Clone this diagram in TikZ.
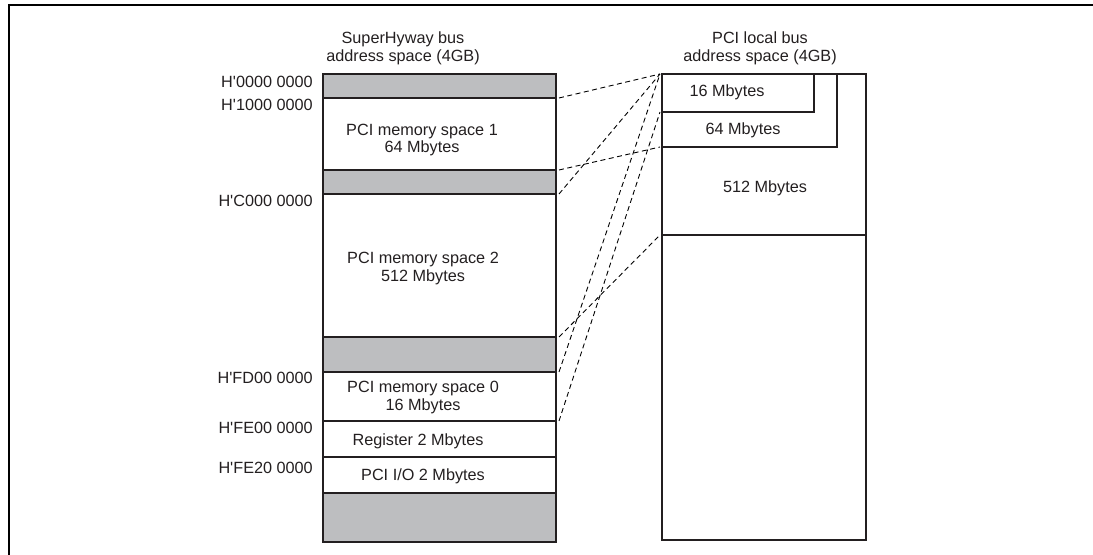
\documentclass[tikz,border=0pt]{standalone}
\usepackage{fontspec}
\setmainfont{Liberation Sans}
\definecolor{ink}{HTML}{231F20}
\definecolor{shade}{HTML}{BDBEC0}
\newcommand{\hq}{H\textquotesingle}
\begin{document}
\begin{tikzpicture}[x=1bp,y=-1bp,
  cell/.style={draw=ink, line width=2.4bp, inner sep=0, outer sep=0, minimum width=233bp},
  graycell/.style={cell, fill=shade},
  rbox/.style={draw=ink, line width=2.4bp, inner sep=0, outer sep=0},
  lbl/.style={font=\fontsize{16.3}{18}\selectfont, inner sep=0, text=ink},
  addr/.style={lbl, anchor=east},
  map/.style={draw=black, line width=0.9bp, dash pattern=on 5bp off 3.5bp}]
\useasboundingbox (0,0) rectangle (1093,555);
% frame
\draw[line width=2.6bp, black] (1093,5) -- (9,5) -- (9,555);
% titles
\node[lbl, align=center] (t1) at (403,48) {SuperHyway bus\\address space (4GB)};
\node[lbl, align=center] (t2) at (760,48) {PCI local bus\\address space (4GB)};
% left column
\node[graycell, minimum height=24bp] (g1) at (439.5,86) {};
\node[cell, minimum height=72bp] (m1) at (439.5,134) {};
\node[graycell, minimum height=24bp] (g2) at (439.5,182) {};
\node[cell, minimum height=143bp] (m2) at (439.5,265.5) {};
\node[graycell, minimum height=35bp] (g3) at (439.5,354.5) {};
\node[cell, minimum height=49bp] (m0) at (439.5,396.5) {};
\node[cell, minimum height=36bp] (reg) at (439.5,439) {};
\node[cell, minimum height=36bp] (io) at (439.5,475) {};
\node[graycell, minimum height=49bp] (g4) at (439.5,517.5) {};
% left texts
\node[lbl, align=center] (m1t) at (422,140) {PCI memory space 1\\64 Mbytes};
\node[lbl, align=center] (m2t) at (423,268.5) {PCI memory space 2\\512 Mbytes};
\node[lbl, align=center] (m0t) at (423,397.5) {PCI memory space 0\\16 Mbytes};
\node[lbl] (regt) at (418,441) {Register 2 Mbytes};
\node[lbl] (iot) at (423,476) {PCI I/O 2 Mbytes};
% addresses
\node[addr] (a1) at (313,82) {\hq0000 0000};
\node[addr] (a2) at (313,105) {\hq1000 0000};
\node[addr] (a3) at (313,201) {\hq C000 0000};
\node[addr] (a4) at (313,378) {\hq FD00 0000};
\node[addr] (a5) at (313,428) {\hq FE00 0000};
\node[addr] (a6) at (313,468) {\hq FE20 0000};
% right column
\node[rbox, minimum width=204bp, minimum height=466bp] (outer) at (764,307) {};
\node[rbox, minimum width=204bp, minimum height=161bp] (b512) at (764,154.5) {};
\node[rbox, minimum width=175bp, minimum height=73bp] (b64) at (749.5,110.5) {};
\node[rbox, minimum width=152bp, minimum height=38bp] (b16) at (738,93) {};
\node[lbl] (b16t) at (727,92) {16 Mbytes};
\node[lbl] (b64t) at (743,130) {64 Mbytes};
\node[lbl] (b512t) at (765,188) {512 Mbytes};
% mapping lines
\draw[map] ([xshift=3bp]m1.north east) -- ([xshift=-2bp]b16.north west);
\draw[map] ([xshift=3bp]m1.south east) -- ([xshift=-2bp]b64.south west);
\draw[map] ([xshift=3bp]m2.north east) -- ([xshift=-2bp]b16.north west);
\draw[map] ([xshift=3bp]m2.south east) -- ([xshift=-2bp]b512.south west);
\draw[map] ([xshift=3bp]m0.north east) -- ([xshift=-2bp]b16.north west);
\draw[map] ([xshift=3bp]m0.south east) -- ([xshift=-2bp]b16.south west);
\end{tikzpicture}
\end{document}
